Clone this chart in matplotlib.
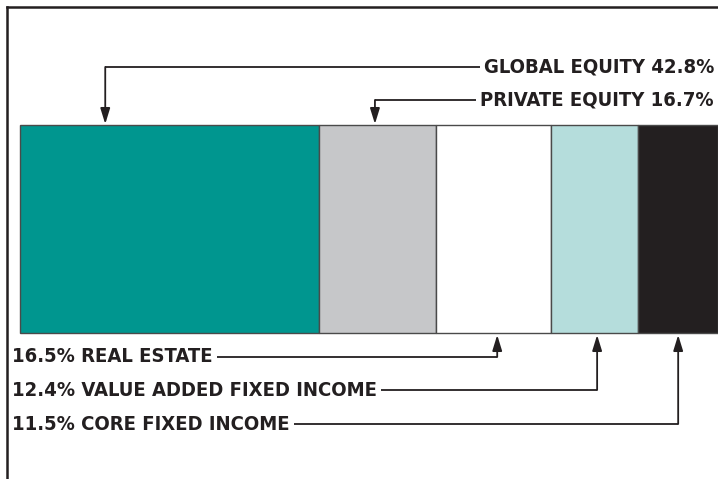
import numpy as np
import matplotlib.pyplot as plt
from matplotlib.lines import Line2D

# asset allocation, left to right
labels = ['GLOBAL EQUITY', 'PRIVATE EQUITY', 'REAL ESTATE',
          'VALUE ADDED FIXED INCOME', 'CORE FIXED INCOME']
shares = [42.8, 16.7, 16.5, 12.4, 11.5]
colors = ['#00968f', '#c6c7c9', '#ffffff', '#b5dddc', '#231f20']

# where each pointer hits the bar (in % along the bar)
pointer_x = [12.2, 50.8, 68.3, 82.6, 94.2]

W, H = 718, 479
fig = plt.figure(figsize=(W / 100, H / 100), dpi=100)
ax = fig.add_axes([0, 0, 1, 1])
scale = (W - 20) / sum(shares)
ax.set_xlim(-20 / scale, sum(shares))
ax.set_ylim(H, 0)
ax.axis('off')

lefts = np.concatenate([[0], np.cumsum(shares)[:-1]])
ax.barh(229, shares, left=lefts, height=208, color=colors,
        edgecolor='#4a4a4a', linewidth=1.0)

font = dict(family='DejaVu Sans', fontstretch='condensed', fontweight='bold',
            fontsize=14.5, color='#231f20')
line_kw = dict(color='#231f20', lw=1.3, solid_capstyle='butt')
arrow_kw = dict(arrowstyle='-|>,head_width=0.29,head_length=0.94', color='#231f20',
                lw=1.3, mutation_scale=10, shrinkA=0, shrinkB=0)

def px(x):
    return (x - 20) / scale

renderer = fig.canvas.get_renderer()
inv = ax.transData.inverted()

def text_edge(t, side):
    bb = t.get_window_extent(renderer)
    x = bb.x0 if side == 'left' else bb.x1
    return inv.transform((x, 0))[0]

# top labels: text right-aligned, line runs left then down to bar
top_rows = [67, 100]
for i, y in zip([0, 1], top_rows):
    t = ax.text(px(714), y, f'{labels[i]} {shares[i]}%', ha='right', va='center', **font)
    ax.plot([pointer_x[i], text_edge(t, 'left') - 4 / scale], [y, y], **line_kw)
    ax.annotate('', xy=(pointer_x[i], 124), xytext=(pointer_x[i], y), arrowprops=arrow_kw)

# bottom labels: text on the left, line runs right then up to bar
bot_rows = [357, 390, 424]
for i, y in zip([2, 3, 4], bot_rows):
    t = ax.text(px(12), y, f'{shares[i]}% {labels[i]}', ha='left', va='center', **font)
    ax.plot([text_edge(t, 'right') + 4 / scale, pointer_x[i]], [y, y], **line_kw)
    ax.annotate('', xy=(pointer_x[i], 335), xytext=(pointer_x[i], y), arrowprops=arrow_kw)

# frame on left and top
fig.add_artist(Line2D([7 / W, 7 / W], [0, 1 - 7 / H], color='#231f20', lw=1.8))
fig.add_artist(Line2D([7 / W, 1], [1 - 7 / H, 1 - 7 / H], color='#231f20', lw=1.8))

fig.savefig('out.png', dpi=100)
